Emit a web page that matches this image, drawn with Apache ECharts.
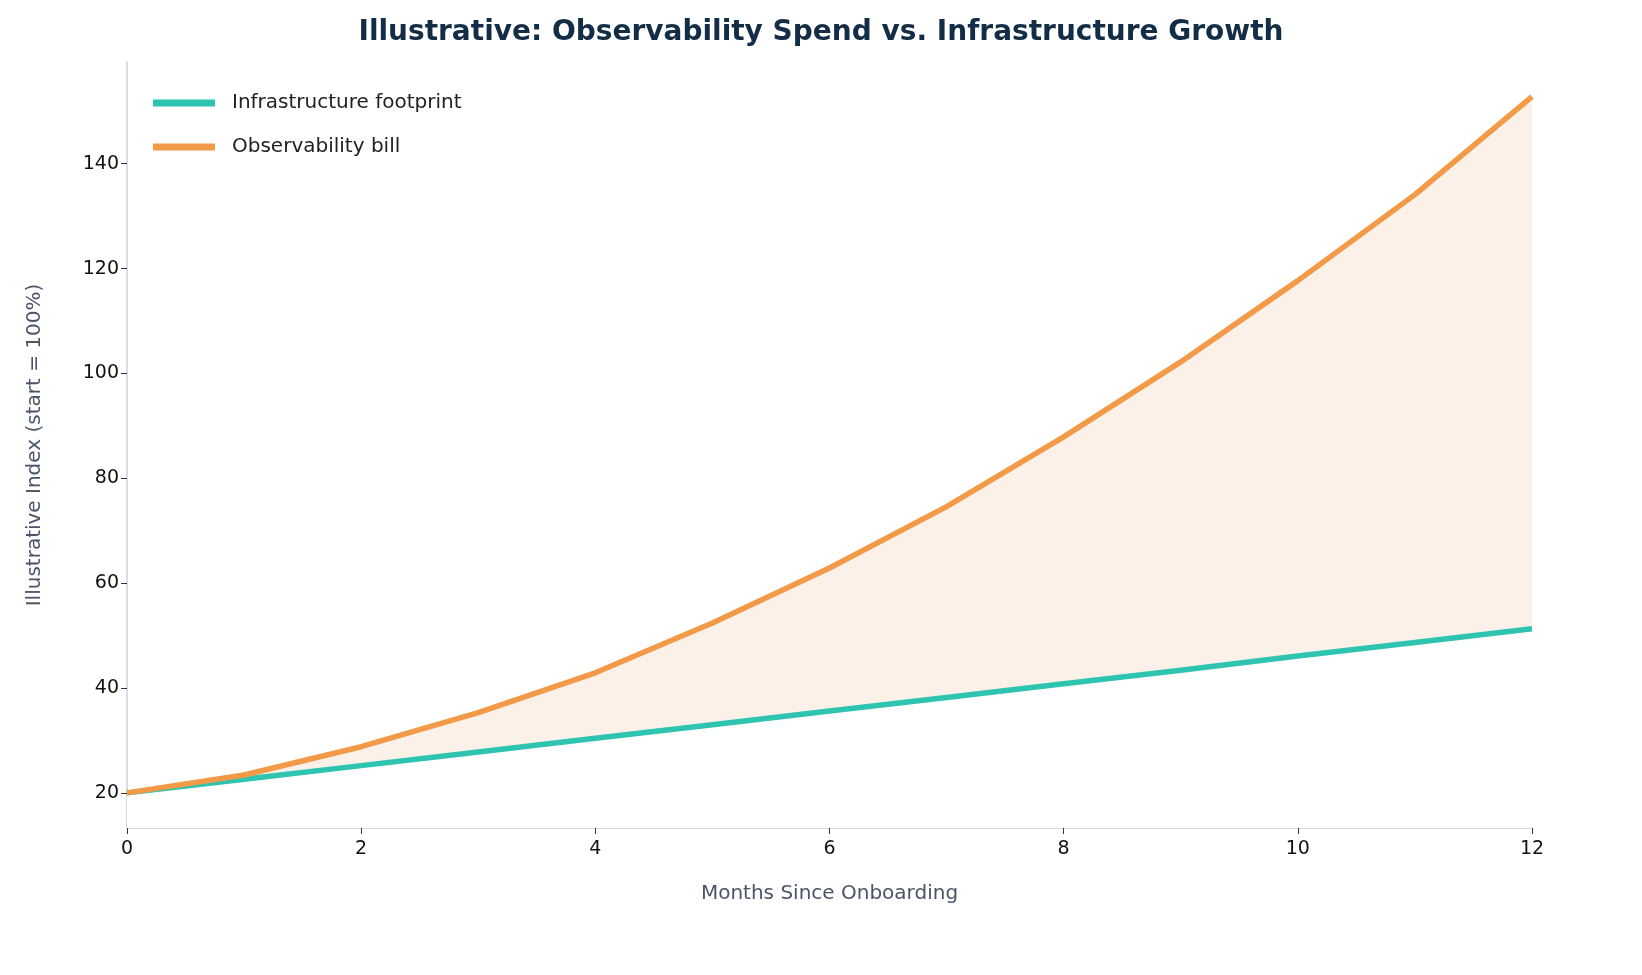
<!DOCTYPE html><html><head><meta charset="utf-8"><script src="https://cdn.jsdelivr.net/npm/echarts@6/dist/echarts.min.js"></script></head><body style="margin:0"><div id="c" style="width:1642px;height:975px"></div><script>
const months=[0,1,2,3,4,5,6,7,8,9,10,11,12];
const infra=[20,22.6,25.2,27.8,30.4,33.0,35.6,38.2,40.8,43.4,46.1,48.7,51.3];
const bill=[20,23.4,28.8,35.3,42.9,52.4,62.9,74.6,87.9,102.2,117.7,134.1,152.8];
const yTicks=[20,40,60,80,100,120,140];
const pair=a=>a.map((v,i)=>[months[i],v]);
const ch=echarts.init(document.getElementById('c'));
const ax={lineStyle:{color:'#c8d3dd',width:1.5}};
const F='DejaVu Sans';
ch.setOption({
title:{text:'Illustrative: Observability Spend vs. Infrastructure Growth',left:'center',top:14,textStyle:{fontFamily:F,fontWeight:'bold',fontSize:28,color:'#132d46'}},
legend:{left:148,top:88,orient:'vertical',itemWidth:62,itemHeight:7,itemGap:24,textStyle:{fontFamily:F,fontSize:20,color:'#222',padding:[0,0,0,12]},data:['Infrastructure footprint','Observability bill'],icon:'rect'},
grid:{left:127,right:110,top:62,bottom:147},
xAxis:{type:'value',min:0,max:12,interval:2,name:'Months Since Onboarding',nameLocation:'middle',nameGap:56,nameTextStyle:{fontFamily:F,fontSize:20,color:'#4a5568'},axisLine:ax,axisTick:{show:true,length:6,lineStyle:{color:'#333'}},axisLabel:{fontFamily:F,fontSize:19,color:'#111',margin:12},splitLine:{show:false}},
yAxis:{type:'value',min:13.3,max:159.4,name:'Illustrative Index (start = 100%)',nameLocation:'middle',nameGap:82,nameTextStyle:{fontFamily:F,fontSize:20,color:'#4a5568'},axisLine:{show:true,...ax},axisTick:{show:true,length:6,lineStyle:{color:'#333'},customValues:yTicks},axisLabel:{fontFamily:F,fontSize:19,color:'#111',customValues:yTicks},splitLine:{show:false}},
series:[
{type:'line',data:pair(bill),symbol:'none',lineStyle:{opacity:0},areaStyle:{color:'#fcf1e8',opacity:1},silent:true,z:1},
{type:'line',data:pair(infra),symbol:'none',lineStyle:{opacity:0},areaStyle:{color:'#ffffff',opacity:1},silent:true,z:2},
{name:'Infrastructure footprint',type:'line',data:pair(infra),symbol:'none',lineStyle:{width:5.5,color:'#2ec4b0'},itemStyle:{color:'#2ec4b0'},z:3},
{name:'Observability bill',type:'line',data:pair(bill),symbol:'none',lineStyle:{width:5.5,color:'#f39a48'},itemStyle:{color:'#f39a48'},z:4}
]});
</script></body></html>
